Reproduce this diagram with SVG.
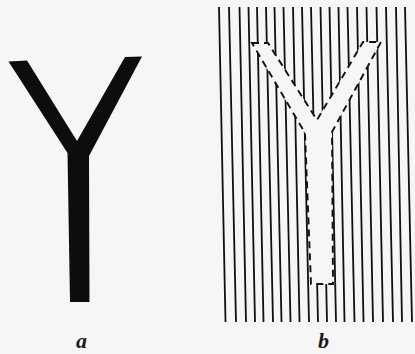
<svg xmlns="http://www.w3.org/2000/svg" width="415" height="354" viewBox="0 0 415 354">
<style>
.bg{fill:#f6f6f6}
.hatch line{stroke:#111;stroke-width:1.8;stroke-linecap:butt}
.cut{fill:#f6f6f6;stroke:#111;stroke-width:1.9;stroke-dasharray:7 5;stroke-linejoin:miter}
.lbl{font-family:"Liberation Serif",serif;font-style:italic;font-weight:bold;font-size:22px;fill:#1a1a1a}
</style>
<rect class="bg" x="0" y="0" width="415" height="354"/>
<g id="figure-a">
<polygon points="8.5,61.5 27,60.5 77,141 125,57 142,56.5 89,156 89.5,302 70,302 67.5,153" fill="#0d0d0d"/>
</g>
<g id="figure-b">
<g class="hatch">
<line x1="219" y1="7" x2="225.5" y2="322"/>
<line x1="229" y1="7" x2="236" y2="322"/>
<line x1="239.5" y1="7" x2="246" y2="322"/>
<line x1="248.5" y1="7" x2="255" y2="322"/>
<line x1="257" y1="7" x2="263.5" y2="322"/>
<line x1="266" y1="7" x2="273" y2="322"/>
<line x1="274.5" y1="7" x2="281.5" y2="322"/>
<line x1="283.5" y1="7" x2="290.5" y2="322"/>
<line x1="293" y1="7" x2="299.5" y2="322"/>
<line x1="302" y1="7" x2="309" y2="322"/>
<line x1="311" y1="7" x2="318" y2="322"/>
<line x1="320.5" y1="7" x2="327" y2="322"/>
<line x1="329.5" y1="7" x2="336" y2="322"/>
<line x1="338.5" y1="7" x2="344.5" y2="322"/>
<line x1="347.5" y1="7" x2="354.5" y2="322"/>
<line x1="357" y1="7" x2="363.5" y2="322"/>
<line x1="366.5" y1="7" x2="373" y2="322"/>
<line x1="376.5" y1="7" x2="383" y2="322"/>
<line x1="386" y1="7" x2="393" y2="322"/>
<line x1="396" y1="7" x2="402" y2="322"/>
<line x1="405" y1="7" x2="412" y2="322"/>
</g>
<polygon class="cut" points="252,43 268,43 317,120 363,42 381,42 332,132 333,284 311,284 305,133"/>
</g>
<text class="lbl" x="76" y="348">a</text>
<text class="lbl" x="318" y="348">b</text>
</svg>
